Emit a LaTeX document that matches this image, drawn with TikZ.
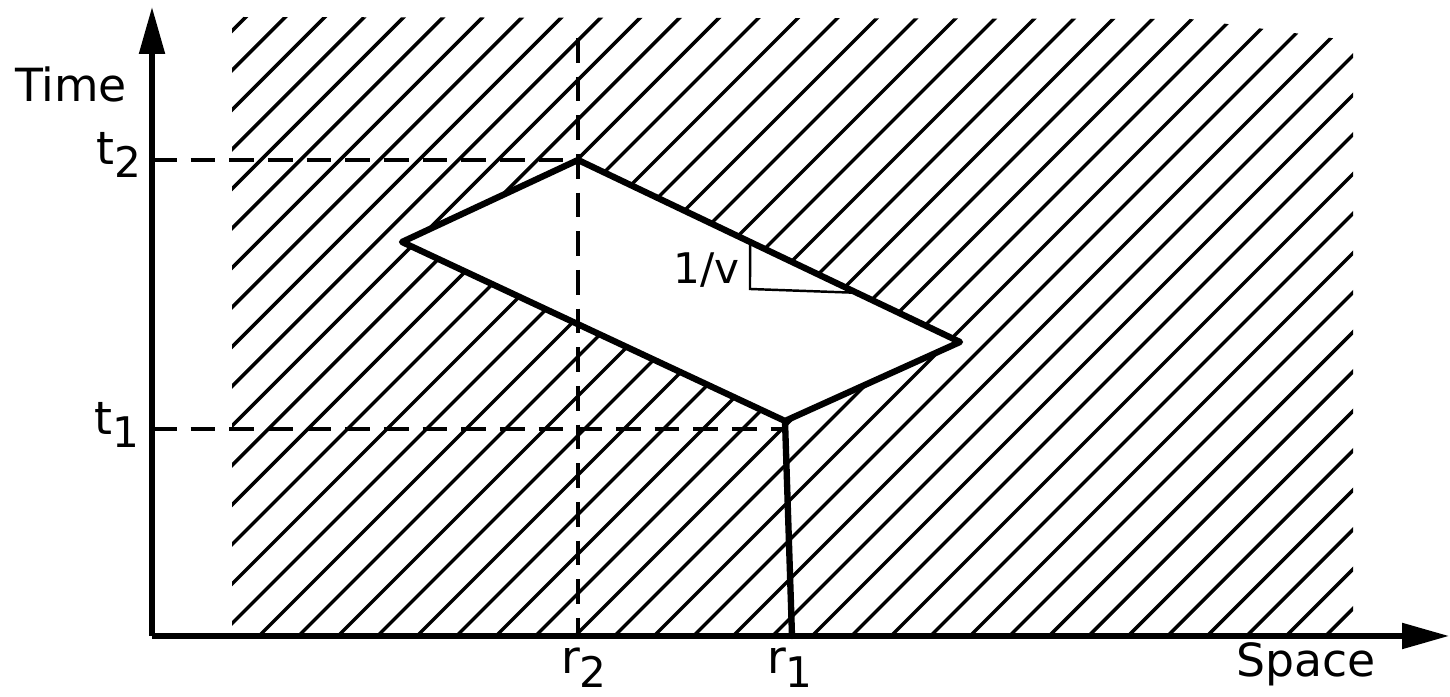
\documentclass[tikz,border=0pt]{standalone}
\usepackage{fontspec}
\setmainfont{DejaVu Sans}
\usetikzlibrary{arrows.meta,calc}
\newcommand{\lowidx}[1]{\raisebox{-0.55ex}{\fontsize{12}{13}\selectfont #1}}
\tikzset{
  axis/.style={line width=1.5pt, -{Triangle[length=4.7mm,width=2.5mm]}},
  hatchline/.style={line width=1pt, line cap=round},
  guide/.style={line width=1pt, dash pattern=on 7pt off 4pt},
  edge/.style={line width=1.8pt, line join=round, line cap=round},
  lbl/.style={font=\fontsize{13}{15}\selectfont, inner sep=0pt},
}
\begin{document}
\begin{tikzpicture}

	\useasboundingbox (0,0) rectangle (14.5,6.97);

	\def\gap{0.395}
	\def\cz{5.14}

	% axes
	\coordinate (O) at (1.52,0.61);
	\coordinate (ytip) at (1.52,6.90);
	\coordinate (xtip) at (14.49,0.61);

	% corners of the unhatched region
	\coordinate (A) at (5.78,5.37);
	\coordinate (B) at (4.02,4.55);
	\coordinate (C) at (7.85,2.76);
	\coordinate (D) at (9.60,3.55);
	\coordinate (F) at (7.92,0.61);

	% hatching
	\begin{scope}
		\clip (2.32,0.61) -- (2.32,6.80) -- (11.90,6.78) -- (13.53,6.56) -- (13.53,0.61) -- cycle;
		\foreach \k in {-26,...,21}{
			\pgfmathsetmacro{\c}{\cz+\k*\gap}
			\draw[hatchline] (\c,0) -- (\c+7.2,7.2);
		}
	\end{scope}
	\fill[white] (A) -- (B) -- (C) -- (D) -- cycle;

	% guides
	\coordinate (t2a) at (O |- A);
	\coordinate (t1a) at (1.52,2.68);
	\coordinate (t1b) at (7.87,2.68);
	\coordinate (r2top) at (5.78,6.59);
	\coordinate (r2a) at (O -| A);
	\draw[guide] (t2a) -- (A);
	\draw[guide] (t1a) -- (t1b);
	\draw[guide] (r2top) -- (r2a);

	% boundary
	\draw[edge] (A) -- (B) -- (C) -- (D) -- cycle;
	\draw[edge] (C) -- (F);

	% slope triangle
	\coordinate (s1) at ($(A)!0.4503!(D)$);
	\coordinate (s2) at (7.50,4.08);
	\coordinate (s3) at ($(A)!0.7298!(D)$);
	\draw[line width=0.7pt] (s1) -- (s2) -- (s3);
	\node[lbl, font=\fontsize{12}{14}\selectfont, anchor=east] (slope) at (7.40,4.27) {1/v};

	\draw[axis] (O) -- (ytip);
	\draw[axis] (O) -- (xtip);

	% labels
	\node[lbl] (time) at (0.71,6.13) {Time};
	\node[lbl] (space) at (13.06,0.33) {Space};
	\node[lbl, anchor=east] (t2) at (1.42,5.42) {t\lowidx{2}};
	\node[lbl, anchor=east] (t1) at (1.40,2.72) {t\lowidx{1}};
	\node[lbl, anchor=north] (r2) at (5.84,0.50) {r\lowidx{2}};
	\node[lbl, anchor=north] (r1) at (7.90,0.50) {r\lowidx{1}};

\end{tikzpicture}
\end{document}
